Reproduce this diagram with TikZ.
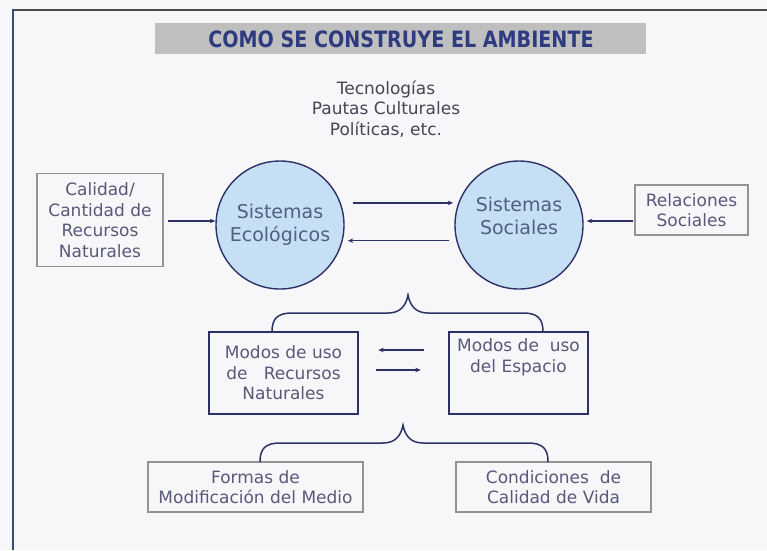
\documentclass[tikz,border=0pt]{standalone}
\usepackage{fontspec}
\setmainfont{DejaVu Sans}
\newfontfamily\titlefont[FakeStretch=0.85]{DejaVu Sans Bold}
\usetikzlibrary{arrows.meta}
\definecolor{bgc}{HTML}{F7F7F9}
\definecolor{navy}{HTML}{2C3266}
\definecolor{titlec}{HTML}{2E3B7E}
\definecolor{boxtxt}{HTML}{58587A}
\definecolor{circtxt}{HTML}{4F6082}
\definecolor{circfill}{HTML}{C6DFF4}
\definecolor{greybar}{HTML}{BFBFC0}
\definecolor{frameg}{HTML}{4A4A4A}
\definecolor{framel}{HTML}{3B4A7E}
\definecolor{toptxt}{HTML}{454555}
\tikzset{
  txt/.style={font=\fontsize{17}{20.5}\selectfont, align=center, inner sep=0pt},
  outerbox/.style={txt, draw=gray!85, line width=1.1pt, text=boxtxt},
  midbox/.style={txt, draw=navy, line width=2.4pt, text=boxtxt},
  circ/.style={circle, draw=navy, line width=1.4pt, fill=circfill, minimum size=128pt, inner sep=0pt,
    font=\fontsize{19}{23}\selectfont, align=center, text=circtxt},
  arr/.style={draw=navy, line width=1.5pt, -{Stealth[length=5.5pt,width=4.5pt]}},
  bracec/.style={draw=navy, line width=1.5pt}
}
\begin{document}
\begin{tikzpicture}[x=1pt,y=-1pt]
\fill[bgc] (0,0) rectangle (767,550);
\useasboundingbox (0,0) rectangle (767,550);
% frame
\draw[frameg, line width=2pt] (12,10) -- (767,10);
\draw[framel, line width=2pt] (13,9) -- (13,550);
% title
\node[fill=greybar, minimum width=491pt, minimum height=31pt, inner sep=0pt] (title) at (400.5,38.5) {};
\node[text=titlec, font=\titlefont\fontsize{22.5}{24}\selectfont, inner sep=0pt] (titletxt) at (401,39) {COMO SE CONSTRUYE EL AMBIENTE};
% top text
\node[txt, text=toptxt] (tec) at (386,109) {Tecnologías\\Pautas Culturales\\Políticas, etc.};
% left box
\node[outerbox, minimum width=126pt, minimum height=93pt] (lbox) at (100,220) {Calidad/\\Cantidad de\\Recursos\\Naturales};
% circles
\node[circ] (eco) at (280,225) {Sistemas\\Ecológicos};
\node[circ] (soc) at (519,225) {Sistemas\\Sociales\\[-4pt]};
% right box
\node[outerbox, minimum width=113pt, minimum height=50pt] (rbox) at (691.5,210) {Relaciones\\Sociales};
% middle boxes
\node[midbox, minimum width=149pt, minimum height=82pt] (mbl) at (283.5,373) {Modos de uso\\de~~ Recursos\\Naturales};
\node[midbox, minimum width=139pt, minimum height=82pt] (mbr) at (518.5,373) {Modos de~ uso\\del Espacio\\[14pt]};
% bottom boxes
\node[outerbox, minimum width=215pt, minimum height=50pt] (bl) at (255.5,487) {Formas de\\Modificación del Medio};
\node[outerbox, minimum width=195pt, minimum height=50pt] (br) at (553.5,487) {Condiciones~ de\\Calidad de Vida};
% connectors
\draw[arr] ([xshift=4pt]lbox.east |- 0,221) -- (eco.west |- 0,221);
\draw[arr] ([xshift=-1pt,yshift=-11pt]rbox.west) -- ([xshift=3pt,yshift=4pt]soc.east);
\draw[arr] ([xshift=12pt]eco.20) -- ([xshift=-5pt]soc.160);
\draw[arr] ([xshift=-7pt]soc.194) -- ([xshift=5pt]eco.-14);
\draw[arr] ([xshift=-24pt,yshift=23pt]mbr.west) -- ([xshift=19pt,yshift=23pt]mbl.east);
\draw[arr] ([xshift=17pt,yshift=3pt]mbl.east) -- ([xshift=-27pt,yshift=3pt]mbr.west);
% braces
\draw[bracec] (272,332) .. controls (272,319) and (277,313) .. (292,313) -- (388,313)
  .. controls (400,313) and (406,306) .. (408,295)
  .. controls (410,306) and (416,313) .. (428,313) -- (523,313)
  .. controls (538,313) and (543,319) .. (543,332);
\draw[bracec] (260,462) .. controls (260,449) and (265,443) .. (280,443) -- (383,443)
  .. controls (395,443) and (401,436) .. (403,425)
  .. controls (405,436) and (411,443) .. (423,443) -- (528,443)
  .. controls (543,443) and (548,449) .. (548,462);
\end{tikzpicture}
\end{document}
